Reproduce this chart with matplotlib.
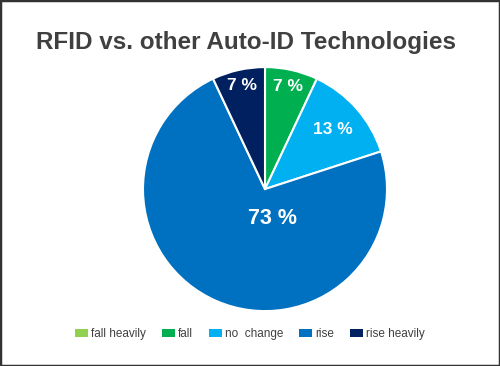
import numpy as np
import matplotlib
matplotlib.use("Agg")
import matplotlib.pyplot as plt
from matplotlib.patches import Rectangle, Patch

plt.rcParams['font.family'] = ['Liberation Sans', 'DejaVu Sans']

CATEGORIES = ["fall heavily", "fall", "no  change", "rise", "rise heavily"]
VALUES = [0, 7, 13, 73, 7]
COLORS = ["#92D050", "#00B050", "#00B0F0", "#0070C0", "#002060"]
LABEL_DIST = [0.85, 0.86, 0.74, 0.3, 0.87]

fig = plt.figure(figsize=(5, 3.66), dpi=100)
ax = fig.add_axes([0.286, 0.150, 0.488, 0.6667])

wedges, _ = ax.pie(VALUES, colors=COLORS, startangle=90, counterclock=False,
                   radius=1, wedgeprops=dict(edgecolor="white", linewidth=1.5))
ax.set_xlim(-1, 1)
ax.set_ylim(-1, 1)

# percentage labels at each wedge's middle angle
for i, w in enumerate(wedges):
    if VALUES[i] == 0:
        continue
    ang = np.deg2rad((w.theta1 + w.theta2) / 2)
    r = LABEL_DIST[i]
    x, y = r * np.cos(ang), r * np.sin(ang)
    size = 12.5
    if VALUES[i] == max(VALUES):
        x, y = 0.06, -0.24
        size = 15.5
    ax.text(x, y, f"{VALUES[i]} %", ha="center", va="center", color="white",
            fontsize=size, fontweight="bold")

fig.text(0.492, 0.885, "RFID vs. other Auto-ID Technologies", ha="center", va="center",
         fontsize=17.5, fontweight="bold", color="#404040")

handles = [Patch(facecolor=c, edgecolor="none") for c in COLORS]
fig.legend(handles, CATEGORIES, loc="center", bbox_to_anchor=(0.5, 0.088), ncol=5,
           frameon=False, fontsize=8.5, handlelength=1.1, handleheight=0.65,
           handletextpad=0.25, columnspacing=1.35, labelcolor="#404040")

fig.add_artist(Rectangle((0, 0), 1, 1, transform=fig.transFigure, fill=False,
                         edgecolor="#333333", linewidth=2.5))

plt.savefig("out.png", dpi=100)
